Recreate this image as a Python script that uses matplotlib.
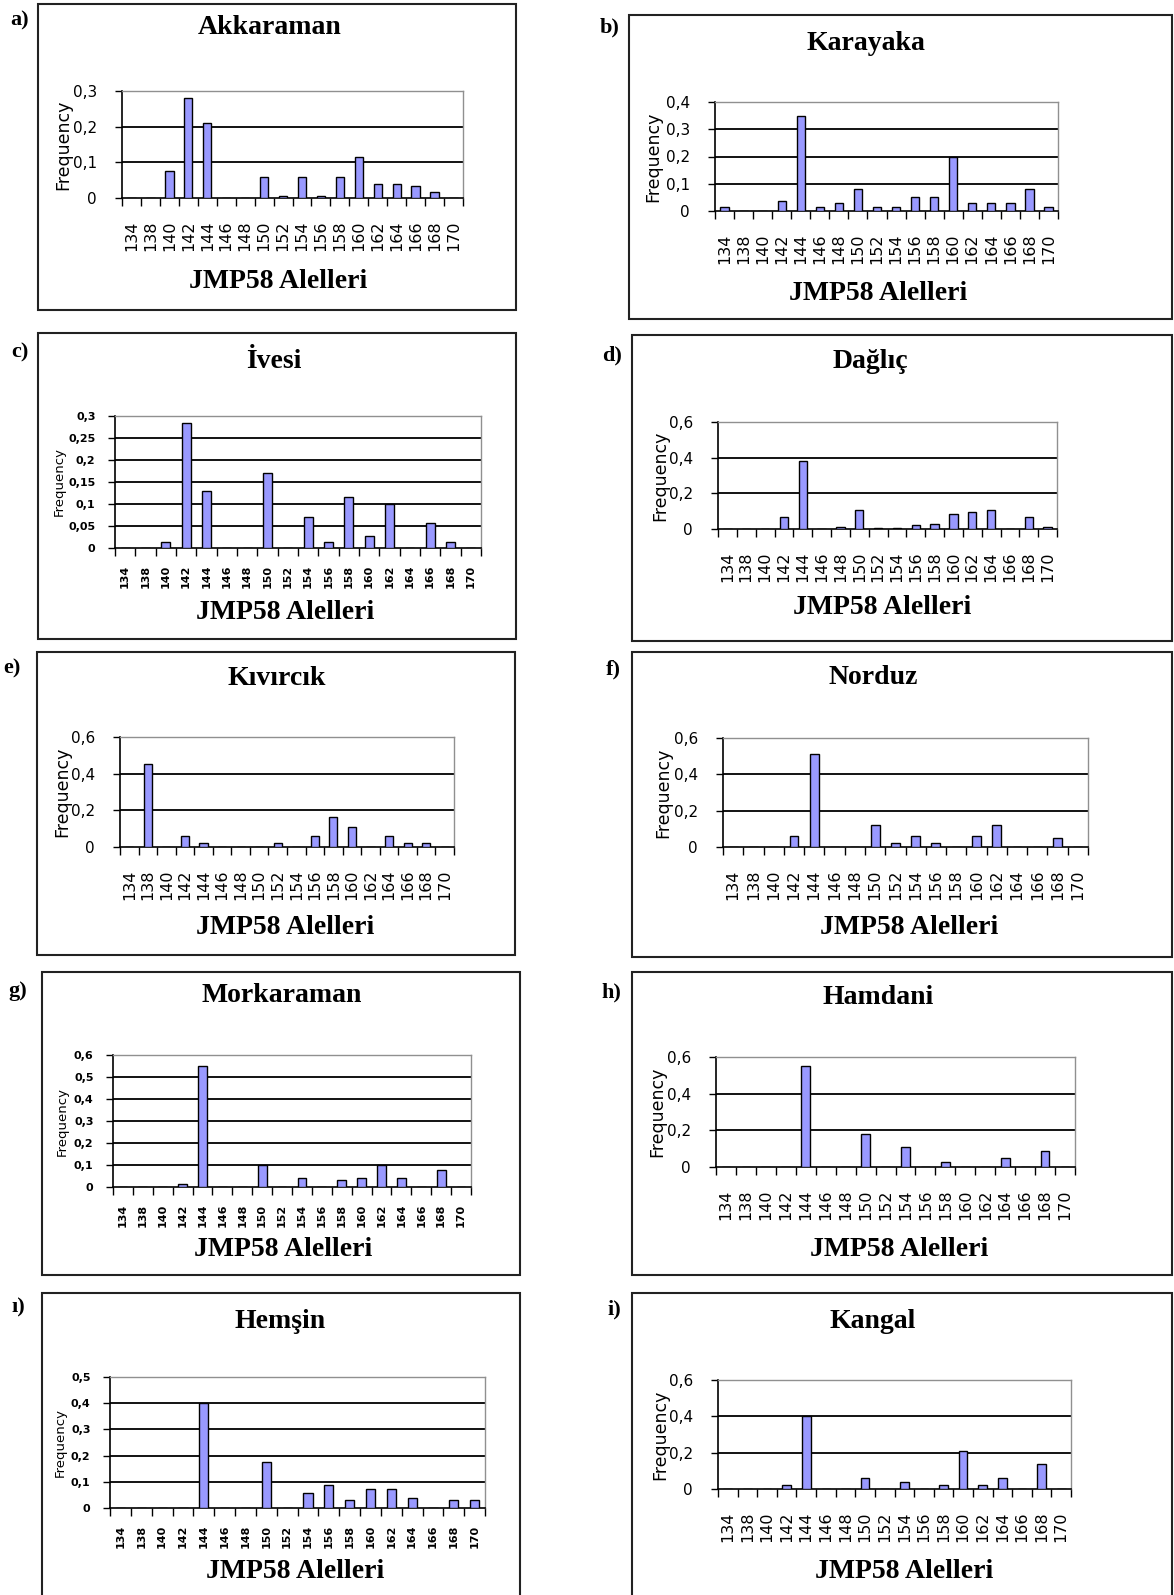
import numpy as np
import matplotlib
matplotlib.use("Agg")
import matplotlib.pyplot as plt
from matplotlib.patches import Rectangle

W, H = 1174, 1595

# allele sizes (x categories)
alleles = ["134", "138", "140", "142", "144", "146", "148", "150", "152",
           "154", "156", "158", "160", "162", "164", "166", "168", "170"]

breeds = ["Akkaraman", "Karayaka", "İvesi", "Dağlıç", "Kıvırcık",
          "Norduz", "Morkaraman", "Hamdani", "Hemşin", "Kangal"]
letters = ["a)", "b)", "c)", "d)", "e)", "f)", "g)", "h)", "ı)", "i)"]

# allele frequencies
akkaraman  = [0, 0, 0.075, 0.28, 0.21, 0, 0, 0.06, 0.005, 0.06, 0.005, 0.06, 0.115, 0.038, 0.038, 0.033, 0.016, 0]
karayaka   = [0.015, 0, 0, 0.035, 0.35, 0.015, 0.03, 0.08, 0.015, 0.015, 0.05, 0.05, 0.2, 0.03, 0.03, 0.03, 0.08, 0.015]
ivesi      = [0, 0, 0.014, 0.283, 0.13, 0, 0, 0.17, 0, 0.07, 0.014, 0.117, 0.027, 0.1, 0, 0.057, 0.014, 0]
daglic     = [0, 0, 0, 0.065, 0.38, 0, 0.01, 0.105, 0.008, 0.008, 0.02, 0.03, 0.085, 0.095, 0.105, 0, 0.065, 0.01]
kivircik   = [0, 0.45, 0, 0.06, 0.02, 0, 0, 0, 0.02, 0, 0.06, 0.165, 0.11, 0, 0.06, 0.02, 0.02, 0]
norduz     = [0, 0, 0, 0.06, 0.51, 0, 0, 0.12, 0.02, 0.06, 0.02, 0, 0.06, 0.12, 0, 0, 0.05, 0]
morkaraman = [0, 0, 0, 0.015, 0.55, 0, 0, 0.1, 0, 0.04, 0, 0.033, 0.04, 0.1, 0.04, 0, 0.077, 0]
hamdani    = [0, 0, 0, 0, 0.55, 0, 0, 0.18, 0, 0.11, 0, 0.03, 0, 0, 0.05, 0, 0.09, 0]
hemsin     = [0, 0, 0, 0, 0.4, 0, 0, 0.175, 0, 0.057, 0.087, 0.03, 0.072, 0.072, 0.037, 0, 0.03, 0.03]
kangal     = [0, 0, 0, 0.02, 0.4, 0, 0, 0.06, 0, 0.04, 0, 0.02, 0.21, 0.02, 0.06, 0, 0.135, 0]

series = [akkaraman, karayaka, ivesi, daglic, kivircik,
          norduz, morkaraman, hamdani, hemsin, kangal]
y_max  = [0.3, 0.4, 0.3, 0.6, 0.6, 0.6, 0.6, 0.6, 0.5, 0.6]
y_step = [0.1, 0.1, 0.05, 0.2, 0.2, 0.2, 0.1, 0.2, 0.1, 0.2]

# layout in pixels: box, plot area, title, xlabel, letter, ylabel x, small font
layout = [
    dict(box=(38, 4, 516, 310), plot=(122, 91, 463, 198), title=(270, 28), xl=(278, 282), let=(20, 20), fq=63, small=False),
    dict(box=(629, 15, 1172, 319), plot=(715, 102, 1058, 211), title=(866, 44), xl=(878, 294), let=(610, 27), fq=653, small=False),
    dict(box=(38, 333, 516, 639), plot=(115, 416, 481, 548), title=(274, 362), xl=(285, 613), let=(20, 352), fq=59, small=True),
    dict(box=(632, 335, 1172, 641), plot=(718, 422, 1057, 529), title=(870, 361), xl=(882, 607), let=(612, 355), fq=660, small=False),
    dict(box=(37, 652, 515, 955), plot=(120, 737, 454, 847), title=(277, 678), xl=(285, 927), let=(12, 668), fq=62, small=False),
    dict(box=(632, 652, 1172, 957), plot=(723, 738, 1088, 847), title=(873, 677), xl=(909, 928), let=(613, 669), fq=663, small=False),
    dict(box=(42, 972, 520, 1275), plot=(113, 1055, 471, 1187), title=(282, 995), xl=(283, 1250), let=(18, 991), fq=62, small=True),
    dict(box=(632, 972, 1172, 1275), plot=(716, 1057, 1075, 1167), title=(878, 997), xl=(899, 1250), let=(611, 992), fq=657, small=False),
    dict(box=(42, 1293, 520, 1600), plot=(110, 1377, 485, 1508), title=(280, 1322), xl=(295, 1572), let=(18, 1307), fq=60, small=True),
    dict(box=(632, 1293, 1172, 1600), plot=(718, 1380, 1071, 1489), title=(873, 1322), xl=(904, 1572), let=(614, 1309), fq=660, small=False),
]


def fx(x):
    return x / W


def fy(y):
    return 1 - y / H


def fmt(v):
    return ("%g" % round(v, 3)).replace(".", ",")


fig = plt.figure(figsize=(W / 100, H / 100), dpi=100)
fig.patch.set_facecolor("white")

serif = "Liberation Serif"
sans = "DejaVu Sans"
x = np.arange(len(alleles))

for i in range(len(series)):
    L = layout[i]
    small = L["small"]
    bx0, by0, bx1, by1 = L["box"]
    fig.patches.append(Rectangle((fx(bx0), fy(by1)), (bx1 - bx0) / W, (by1 - by0) / H,
                                 transform=fig.transFigure, fill=False,
                                 edgecolor="#222222", lw=1.5))
    px0, py0, px1, py1 = L["plot"]
    ax = fig.add_axes([fx(px0), fy(py1), (px1 - px0) / W, (py1 - py0) / H])

    ax.bar(x, series[i], width=0.44, color="#9999FF", edgecolor="black",
           linewidth=1.0, zorder=3)
    ax.set_xlim(-0.5, len(alleles) - 0.5)
    ax.set_ylim(0, y_max[i])

    yt = np.arange(0, y_max[i] + 1e-9, y_step[i])
    for v in yt[1:-1]:
        ax.axhline(v, color="black", lw=1.3, zorder=1)
    ax.set_yticks(yt)
    ax.set_yticklabels([fmt(v) for v in yt], fontsize=8 if small else 11,
                       family=sans, fontweight="bold" if small else "normal")
    ax.tick_params(axis="y", length=5, width=1, direction="out",
                   pad=9 if small else 13)

    ax.set_xticks(x)
    ax.set_xticklabels(alleles, rotation=90, fontsize=8 if small else 11.5,
                       family=sans, fontweight="bold" if small else "normal")
    ax.set_xticks(np.arange(-0.5, len(alleles)), minor=True)
    ax.tick_params(axis="x", which="major", length=0, pad=12 if small else 16)
    ax.tick_params(axis="x", which="minor", length=6, width=1, direction="out")

    for s in ["top", "right"]:
        ax.spines[s].set_color("#909090")
        ax.spines[s].set_linewidth(1)
    for s in ["left", "bottom"]:
        ax.spines[s].set_color("black")
        ax.spines[s].set_linewidth(1.2)

    fig.text(fx(L["fq"]), fy((py0 + py1) / 2), "Frequency", rotation=90,
             ha="center", va="center", family=sans,
             fontsize=9.5 if small else 12.5)

    fig.text(fx(L["title"][0]), fy(L["title"][1]), breeds[i], ha="center",
             va="center", family=serif, fontweight="bold", fontsize=20)
    fig.text(fx(L["xl"][0]), fy(L["xl"][1]), "JMP58 Alelleri", ha="center",
             va="center", family=serif, fontweight="bold", fontsize=20)
    fig.text(fx(L["let"][0]), fy(L["let"][1]), letters[i], ha="center",
             va="center", family=serif, fontweight="bold", fontsize=16)

fig.savefig("out.png", dpi=100, facecolor="white")
